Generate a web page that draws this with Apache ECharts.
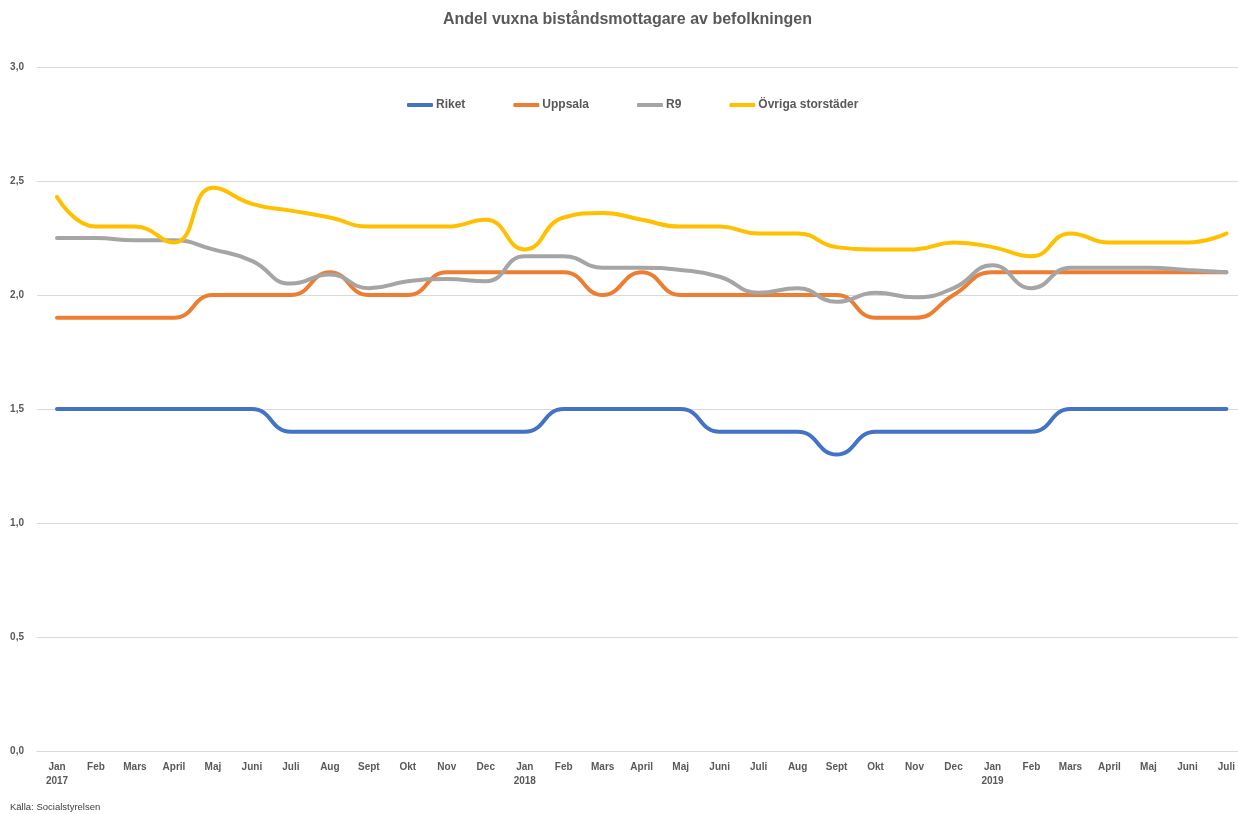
<!DOCTYPE html>
<html>
<head>
<meta charset="utf-8">
<script src="https://cdn.jsdelivr.net/npm/echarts@6/dist/echarts.min.js"></script>
<style>
  html, body { margin: 0; padding: 0; background: #fff; }
  #chart { width: 1238px; height: 814px; }
</style>
</head>
<body>
<div id="chart"></div>
<script>
// månader jan 2017 - juli 2019
const months = ['Jan\n2017', 'Feb', 'Mars', 'April', 'Maj', 'Juni', 'Juli', 'Aug', 'Sept', 'Okt', 'Nov', 'Dec',
  'Jan\n2018', 'Feb', 'Mars', 'April', 'Maj', 'Juni', 'Juli', 'Aug', 'Sept', 'Okt', 'Nov', 'Dec',
  'Jan\n2019', 'Feb', 'Mars', 'April', 'Maj', 'Juni', 'Juli']

const riket = [1.5, 1.5, 1.5, 1.5, 1.5, 1.5, 1.4, 1.4, 1.4, 1.4, 1.4, 1.4,
  1.4, 1.5, 1.5, 1.5, 1.5, 1.4, 1.4, 1.4, 1.3, 1.4, 1.4, 1.4,
  1.4, 1.4, 1.5, 1.5, 1.5, 1.5, 1.5]
const uppsala = [1.9, 1.9, 1.9, 1.9, 2.0, 2.0, 2.0, 2.1, 2.0, 2.0, 2.1, 2.1,
  2.1, 2.1, 2.0, 2.1, 2.0, 2.0, 2.0, 2.0, 2.0, 1.9, 1.9, 2.0,
  2.1, 2.1, 2.1, 2.1, 2.1, 2.1, 2.1]
const r9 = [2.25, 2.25, 2.24, 2.24, 2.2, 2.15, 2.05, 2.09, 2.03, 2.06, 2.07, 2.06,
  2.17, 2.17, 2.12, 2.12, 2.11, 2.08, 2.01, 2.03, 1.97, 2.01, 1.99, 2.03,
  2.13, 2.03, 2.12, 2.12, 2.12, 2.11, 2.1]
const ovriga = [2.43, 2.3, 2.3, 2.23, 2.47, 2.4, 2.37, 2.34, 2.3, 2.3, 2.3, 2.33,
  2.2, 2.34, 2.36, 2.33, 2.3, 2.3, 2.27, 2.27, 2.21, 2.2, 2.2, 2.23,
  2.21, 2.17, 2.27, 2.23, 2.23, 2.23, 2.27]

const yTicks = { min: 0, max: 3, interval: 0.5 }

const textGray = '#595959'
const font = 'Liberation Sans'

function line(name, data, color) {
  return {
    name: name,
    type: 'line',
    xAxisIndex: 1,
    yAxisIndex: 1,
    data: data,
    smooth: 0.5,
    symbol: 'none',
    lineStyle: { color: color, width: 4, cap: 'round' },
    itemStyle: { color: color },
    animation: false
  }
}

const chart = echarts.init(document.getElementById('chart'))
chart.setOption({
  backgroundColor: '#fff',
  textStyle: { fontFamily: font },
  title: {
    text: 'Andel vuxna biståndsmottagare av befolkningen',
    left: 438,
    top: 7,
    textStyle: { color: textGray, fontSize: 16, fontWeight: 'bold', fontFamily: font }
  },
  legend: {
    left: 402,
    top: 94,
    itemWidth: 26,
    itemHeight: 4,
    itemGap: 48,
    icon: 'roundRect',
    textStyle: { color: textGray, fontSize: 12, fontWeight: 'bold', padding: [0, 0, 0, -2] },
    data: ['Riket', 'Uppsala', 'R9', 'Övriga storstäder']
  },
  graphic: [{
    type: 'text',
    left: 10,
    top: 802,
    style: { text: 'Källa: Socialstyrelsen', fill: '#404040', font: '9.5px "Liberation Sans"' }
  }],
  // grid 0: stödlinjer och y-etiketter, grid 1: linjerna
  grid: [
    { left: 37, top: 67, right: 0, height: 684 },
    { left: 57, top: 67, right: 6, height: 684 }
  ],
  xAxis: [{
    gridIndex: 0,
    type: 'value',
    min: 0,
    max: 1,
    axisLine: { show: true, onZero: false, lineStyle: { color: '#D9D9D9' } },
    axisTick: { show: false },
    axisLabel: { show: false },
    splitLine: { show: false }
  }, {
    gridIndex: 1,
    type: 'category',
    data: months,
    boundaryGap: false,
    axisLine: { show: false },
    axisTick: { show: false },
    splitLine: { show: false },
    axisLabel: {
      color: textGray, fontSize: 10, fontWeight: 'bold', margin: 9,
      lineHeight: 14, interval: 0
    }
  }],
  yAxis: [{
    gridIndex: 0,
    type: 'value',
    min: yTicks.min,
    max: yTicks.max,
    interval: yTicks.interval,
    axisLine: { show: false },
    axisTick: { show: false },
    splitLine: { lineStyle: { color: '#D9D9D9', width: 1 } },
    axisLabel: {
      color: textGray, fontSize: 10, fontWeight: 'bold', margin: 13,
      formatter: v => v.toFixed(1).replace('.', ',')
    }
  }, {
    gridIndex: 1,
    type: 'value',
    min: yTicks.min,
    max: yTicks.max,
    interval: yTicks.interval,
    show: false,
    splitLine: { show: false }
  }],
  series: [
    line('Riket', riket, '#4472C4'),
    line('Uppsala', uppsala, '#ED7D31'),
    line('R9', r9, '#A5A5A5'),
    line('Övriga storstäder', ovriga, '#FFC000')
  ]
})
</script>
</body>
</html>
